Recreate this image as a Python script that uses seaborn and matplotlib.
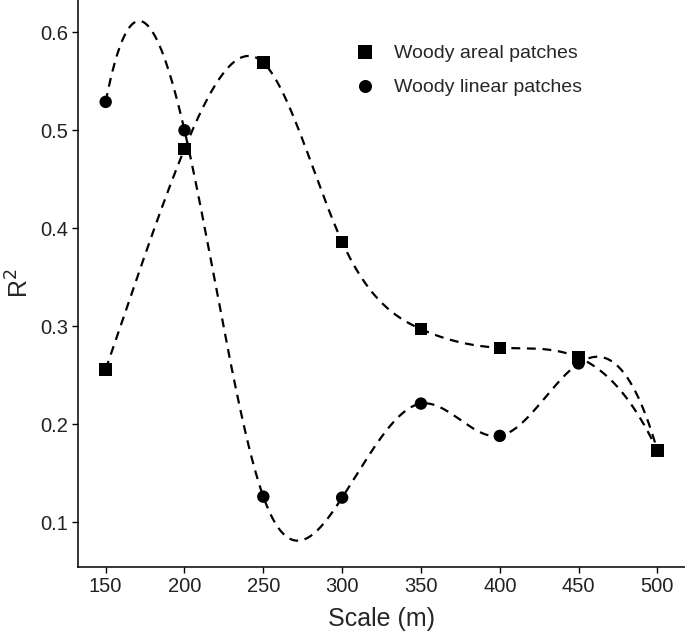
import numpy as np
import pandas as pd
import matplotlib
matplotlib.use("Agg")
import matplotlib.pyplot as plt
import seaborn as sns

scale = [150, 200, 250, 300, 350, 400, 450, 500]
areal_r2 = [0.256, 0.481, 0.569, 0.386, 0.297, 0.278, 0.268, 0.173]
linear_r2 = [0.529, 0.500, 0.126, 0.125, 0.221, 0.188, 0.262, 0.173]
series_names = ["Woody areal patches", "Woody linear patches"]


def fmm_spline(x, y, n=500):
    # Forsythe-Malcolm-Moler cubic spline (same as R's spline()), for the dashed curve
    x = np.asarray(x, float)
    y = np.asarray(y, float)
    k = len(x)
    m = k - 1
    b = np.zeros(k)
    c = np.zeros(k)
    d = np.zeros(k)
    d[0] = x[1] - x[0]
    c[1] = (y[1] - y[0]) / d[0]
    for i in range(1, m):
        d[i] = x[i + 1] - x[i]
        b[i] = 2.0 * (d[i - 1] + d[i])
        c[i + 1] = (y[i + 1] - y[i]) / d[i]
        c[i] = c[i + 1] - c[i]
    b[0] = -d[0]
    b[m] = -d[k - 2]
    c[0] = c[2] / (x[3] - x[1]) - c[1] / (x[2] - x[0])
    c[m] = c[k - 2] / (x[m] - x[k - 3]) - c[k - 3] / (x[k - 2] - x[k - 4])
    c[0] = c[0] * d[0] * d[0] / (x[3] - x[0])
    c[m] = -c[m] * d[k - 2] * d[k - 2] / (x[m] - x[k - 4])
    for i in range(1, k):
        t = d[i - 1] / b[i - 1]
        b[i] = b[i] - t * d[i - 1]
        c[i] = c[i] - t * c[i - 1]
    c[m] = c[m] / b[m]
    for i in range(k - 2, -1, -1):
        c[i] = (c[i] - d[i] * c[i + 1]) / b[i]
    b[m] = (y[m] - y[k - 2]) / d[k - 2] + d[k - 2] * (c[k - 2] + 2.0 * c[m])
    for i in range(m):
        b[i] = (y[i + 1] - y[i]) / d[i] - d[i] * (c[i + 1] + 2.0 * c[i])
        d[i] = (c[i + 1] - c[i]) / d[i]
        c[i] = 3.0 * c[i]
    c[m] = 3.0 * c[m]
    d[m] = d[k - 2]

    xs = np.linspace(x[0], x[-1], n)
    idx = np.clip(np.searchsorted(x, xs, side="right") - 1, 0, m)
    dx = xs - x[idx]
    return xs, y[idx] + b[idx] * dx + c[idx] * dx ** 2 + d[idx] * dx ** 3


points = pd.DataFrame({
    "Scale": scale * 2,
    "R2": areal_r2 + linear_r2,
    "Patch": [series_names[0]] * len(scale) + [series_names[1]] * len(scale),
})

curves = []
for name, vals in zip(series_names, [areal_r2, linear_r2]):
    xs, ys = fmm_spline(scale, vals)
    curves.append(pd.DataFrame({"Scale": xs, "R2": ys, "Patch": name}))
curves = pd.concat(curves)

sns.set_theme(style="ticks")
plt.rcParams["font.family"] = ["Liberation Sans", "DejaVu Sans"]

fig = plt.figure(figsize=(6.85, 6.33), dpi=100)
ax = fig.add_axes([0.114, 0.104, 0.886, 0.896])

sns.lineplot(data=curves, x="Scale", y="R2", units="Patch", estimator=None,
             sort=False, color="black", linestyle=(0, (4, 3)), linewidth=1.6,
             ax=ax, legend=False)
sns.scatterplot(data=points, x="Scale", y="R2", style="Patch",
                markers={series_names[0]: "s", series_names[1]: "o"},
                color="black", s=80, edgecolor="black", linewidth=0, ax=ax, zorder=3)

ax.set_xlim(132.5, 517.5)
ax.set_ylim(0.054, 0.633)
ax.set_xticks(scale)
ax.set_yticks([0.1, 0.2, 0.3, 0.4, 0.5, 0.6])
ax.set_yticklabels(["0.1", "0.2", "0.3", "0.4", "0.5", "0.6"])
ax.tick_params(labelsize=14.5, length=4, width=1, colors="black",
               labelcolor="#222222", pad=3)
for s in ["left", "bottom"]:
    ax.spines[s].set_linewidth(1.1)
    ax.spines[s].set_color("black")
sns.despine(ax=ax)

ax.set_xlabel("Scale (m)", fontsize=18, labelpad=8)
ax.set_ylabel("R$^2$", fontsize=18, labelpad=5)

leg = ax.legend(loc="upper left", bbox_to_anchor=(0.412, 0.952), frameon=False,
                fontsize=14, title=None, handletextpad=0.5, labelspacing=0.85,
                markerscale=1.05)

fig.savefig("out.png", dpi=100)
